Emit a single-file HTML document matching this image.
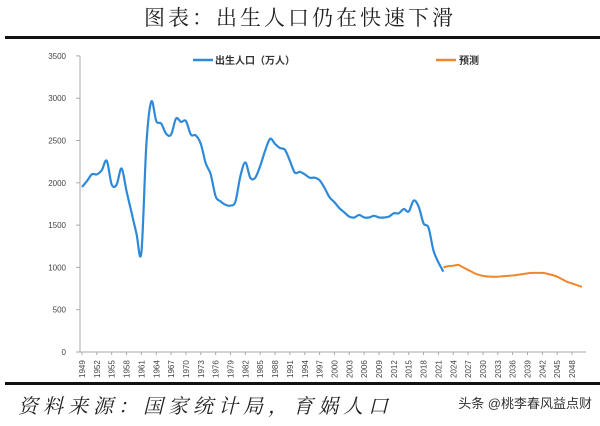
<!DOCTYPE html>
<html><head><meta charset="utf-8"><style>
body{margin:0;width:600px;height:421px;background:#fff;overflow:hidden;font-family:"Liberation Sans","Noto Sans CJK SC",sans-serif}
</style></head><body>
<svg width="600" height="421" xmlns="http://www.w3.org/2000/svg">
<text x="300" y="25" text-anchor="middle" font-size="21" font-family="'Liberation Serif','Noto Serif CJK SC',serif" letter-spacing="3" fill="#222">图表：出生人口仍在快速下滑</text>
<rect x="5" y="36" width="595" height="3" fill="#111"/>
<rect x="5" y="382" width="595" height="3" fill="#111"/>
<text x="18" y="413" font-size="20" font-style="italic" font-family="'Liberation Serif','Noto Serif CJK SC',serif" fill="#222" letter-spacing="5">资料来源：国家统计局，育娲人口</text>
<text x="592" y="408" text-anchor="end" font-size="13" fill="#333">头条 @桃李春风益点财</text>
<g id="legend">
<line x1="193" y1="60" x2="213" y2="60" stroke="#2e8ad8" stroke-width="2.5"/>
<text x="215" y="64" font-size="10" font-weight="bold" fill="#333">出生人口（万人）</text>
<line x1="436" y1="60" x2="456" y2="60" stroke="#f0862a" stroke-width="2.5"/>
<text x="459" y="64" font-size="10" font-weight="bold" fill="#333">预测</text>
</g>
<g id="axes"></g>
<g id="plot"></g>
</svg>
<script>
const yTicks=[0,500,1000,1500,2000,2500,3000,3500];
const birthStart=1949;
const births=[1950,2020,2100,2100,2150,2260,1980,1980,2170,1900,1650,1400,1180,2450,2960,2730,2700,2580,2570,2760,2720,2730,2570,2560,2460,2230,2100,1840,1780,1740,1730,1780,2080,2240,2060,2060,2200,2380,2520,2460,2410,2390,2260,2120,2130,2100,2060,2060,2030,1940,1830,1770,1700,1650,1600,1590,1620,1590,1590,1610,1590,1590,1600,1640,1640,1690,1660,1790,1720,1520,1470,1200,1060,950];
const forecastStart=2022;
const forecast=[1000,1015,1020,1030,1000,970,940,915,900,892,890,890,895,900,905,912,920,930,935,935,935,925,910,890,860,830,810,790,770];
const xLabels=[];for(let y=1949;y<=2048;y+=3)xLabels.push(y);
const NS="http://www.w3.org/2000/svg";
const X=yr=>82+(yr-1949)*4.95, Y=v=>352-v*0.0846;
const axes=document.getElementById('axes'),plot=document.getElementById('plot');
function mk(tag,at,par){const e=document.createElementNS(NS,tag);for(const k in at)e.setAttribute(k,at[k]);par.appendChild(e);return e;}
const ya=mk('line',{x1:80,y1:56,x2:80,y2:352,stroke:'#aaa'},axes);


const xa=mk('line',{x1:80,y1:352,x2:586,y2:352,stroke:'#aaa'},axes);


yTicks.forEach(v=>{const t=mk('text',{x:66,y:Y(v)+3,'text-anchor':'end','font-size':8,fill:'#444'},axes);t.textContent=v;


const l=mk('line',{x1:76,y1:Y(v),x2:80,y2:Y(v),stroke:'#aaa'},axes);

});
xLabels.forEach(yr=>{const x=X(yr);const l=mk('line',{x1:x,y1:352,x2:x,y2:355,stroke:'#aaa'},axes);


const t=mk('text',{x:0,y:0,transform:`translate(${x+3},${378}) rotate(-90)`,'font-size':8,fill:'#444'},axes);t.textContent=yr;

});
function smooth(pts){let d=`M${pts[0][0]},${pts[0][1]}`;for(let i=0;i<pts.length-1;i++){const p0=pts[i-1]||pts[i],p1=pts[i],p2=pts[i+1],p3=pts[i+2]||p2;
d+=` C${p1[0]+(p2[0]-p0[0])/6},${p1[1]+(p2[1]-p0[1])/6} ${p2[0]-(p3[0]-p1[0])/6},${p2[1]-(p3[1]-p1[1])/6} ${p2[0]},${p2[1]}`;}return d;}
const b=mk('path',{d:smooth(births.map((v,i)=>[X(birthStart+i),Y(v)])),fill:'none',stroke:'#2e8ad8','stroke-width':2.2},plot);


const f=mk('path',{d:smooth(forecast.map((v,i)=>[X(forecastStart+i),Y(v)])),fill:'none',stroke:'#f0862a','stroke-width':2},plot);


</script>
</body></html>
